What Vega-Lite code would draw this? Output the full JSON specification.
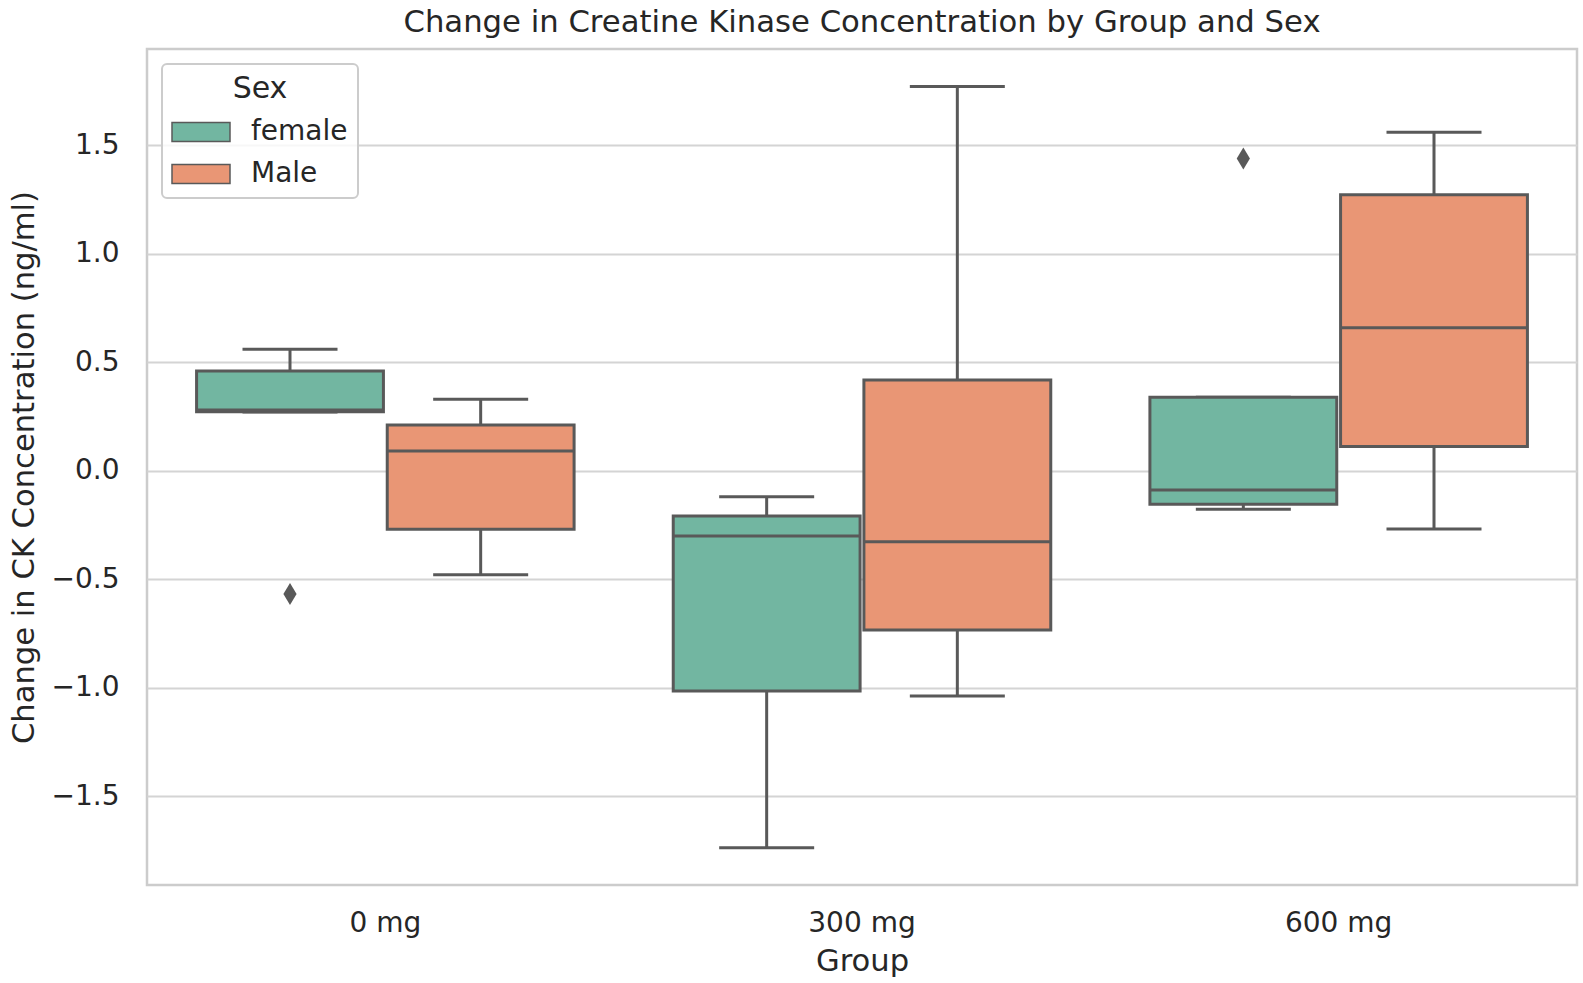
{
  "$schema": "https://vega.github.io/schema/vega-lite/v6.json",
  "width": 1430,
  "height": 836,
  "autosize": {"type": "none"},
  "padding": {"left": 147, "top": 49, "right": 6, "bottom": 98},
  "background": "white",
  "title": {
    "text": "Change in Creatine Kinase Concentration by Group and Sex",
    "anchor": "middle",
    "font": "DejaVu Sans",
    "fontSize": 30.7,
    "fontWeight": "normal",
    "color": "#262626",
    "offset": 10
  },
  "datasets": {
    "boxes": [
      {"Group": "0 mg", "Sex": "female", "lower": 0.27, "q1": 0.272, "median": 0.28, "q3": 0.459, "upper": 0.559},
      {"Group": "0 mg", "Sex": "Male", "lower": -0.479, "q1": -0.27, "median": 0.091, "q3": 0.211, "upper": 0.329},
      {"Group": "300 mg", "Sex": "female", "lower": -1.737, "q1": -1.015, "median": -0.301, "q3": -0.209, "upper": -0.12},
      {"Group": "300 mg", "Sex": "Male", "lower": -1.038, "q1": -0.734, "median": -0.327, "q3": 0.418, "upper": 1.77},
      {"Group": "600 mg", "Sex": "female", "lower": -0.178, "q1": -0.155, "median": -0.089, "q3": 0.338, "upper": 0.338},
      {"Group": "600 mg", "Sex": "Male", "lower": -0.269, "q1": 0.111, "median": 0.659, "q3": 1.272, "upper": 1.559}
    ],
    "outliers": [
      {"Group": "0 mg", "Sex": "female", "value": -0.568},
      {"Group": "600 mg", "Sex": "female", "value": 1.438}
    ]
  },
  "data": {"name": "boxes"},
  "encoding": {
    "x": {
      "field": "Group",
      "type": "nominal",
      "sort": ["0 mg", "300 mg", "600 mg"],
      "scale": {"paddingInner": 0.2, "paddingOuter": 0.1},
      "axis": {"title": "Group", "labelAngle": 0, "grid": false, "labelPadding": 24, "titlePadding": 9}
    },
    "xOffset": {
      "field": "Sex",
      "type": "nominal",
      "sort": ["female", "Male"],
      "scale": {"paddingInner": 0.02, "paddingOuter": 0.01}
    }
  },
  "layer": [
    {
      "mark": {"type": "rule", "color": "#595959", "strokeWidth": 3},
      "encoding": {
        "y": {
          "field": "lower",
          "type": "quantitative",
          "scale": {"domain": [-1.909, 1.943], "nice": false, "zero": false},
          "axis": {
            "title": "Change in CK Concentration (ng/ml)",
            "values": [-1.5, -1, -0.5, 0, 0.5, 1, 1.5],
            "format": ".1f",
            "labelPadding": 28,
            "titlePadding": 12
          }
        },
        "y2": {"field": "upper"}
      }
    },
    {
      "mark": {"type": "tick", "color": "#595959", "size": 95, "thickness": 3, "opacity": 1},
      "encoding": {"y": {"field": "lower", "type": "quantitative"}}
    },
    {
      "mark": {"type": "tick", "color": "#595959", "size": 95, "thickness": 3, "opacity": 1},
      "encoding": {"y": {"field": "upper", "type": "quantitative"}}
    },
    {
      "mark": {"type": "bar", "stroke": "#595959", "strokeWidth": 3, "fillOpacity": 1},
      "encoding": {
        "y": {"field": "q1", "type": "quantitative"},
        "y2": {"field": "q3"},
        "color": {
          "field": "Sex",
          "type": "nominal",
          "sort": ["female", "Male"],
          "scale": {"domain": ["female", "Male"], "range": ["#72b6a1", "#e99675"]},
          "legend": {"title": "Sex"}
        }
      }
    },
    {
      "mark": {"type": "tick", "color": "#595959", "size": 187, "thickness": 3, "opacity": 1},
      "encoding": {"y": {"field": "median", "type": "quantitative"}}
    },
    {
      "data": {"name": "outliers"},
      "mark": {
        "type": "point",
        "shape": "M0,-1L0.6,0L0,1L-0.6,0Z",
        "filled": true,
        "size": 484,
        "color": "#595959",
        "opacity": 1
      },
      "encoding": {"y": {"field": "value", "type": "quantitative"}}
    }
  ],
  "config": {
    "font": "DejaVu Sans",
    "view": {"stroke": "#cccccc", "strokeWidth": 2.5},
    "axis": {
      "domain": false,
      "ticks": false,
      "gridColor": "#d4d4d4",
      "gridWidth": 2,
      "labelFont": "DejaVu Sans",
      "labelFontSize": 28,
      "labelColor": "#262626",
      "titleFont": "DejaVu Sans",
      "titleFontSize": 30.6,
      "titleFontWeight": "normal",
      "titleColor": "#262626"
    },
    "legend": {
      "orient": "top-left",
      "offset": 15,
      "fillColor": "rgba(255,255,255,0.8)",
      "strokeColor": "#cccccc",
      "strokeWidth": 2,
      "cornerRadius": 5,
      "padding": 10,
      "titleFont": "DejaVu Sans",
      "titleFontSize": 30,
      "titleFontWeight": "normal",
      "titleColor": "#262626",
      "titleAnchor": "middle",
      "titlePadding": 14,
      "labelFont": "DejaVu Sans",
      "labelFontSize": 28,
      "labelColor": "#262626",
      "symbolType": "M-1.4,-0.95H4.4V0.95H-1.4Z",
      "symbolSize": 400,
      "symbolStrokeColor": "#595959",
      "symbolStrokeWidth": 1.5,
      "symbolOpacity": 1,
      "labelOffset": 51,
      "rowPadding": 14
    }
  }
}
